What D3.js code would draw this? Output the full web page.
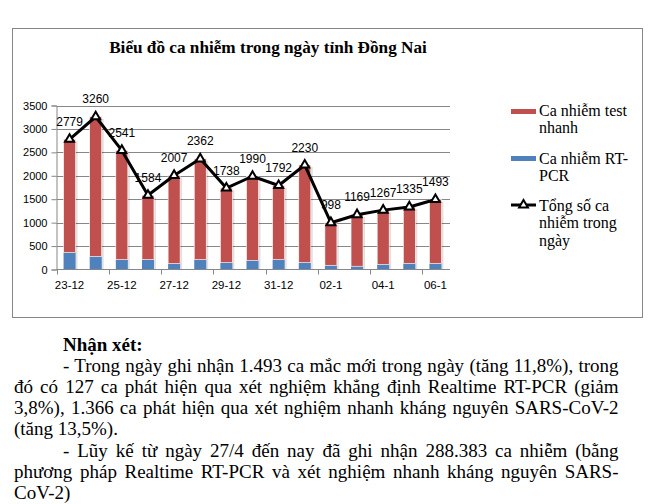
<!DOCTYPE html>
<html><head><meta charset="utf-8">
<script src="https://cdn.jsdelivr.net/npm/d3@7"></script>
<style>html,body{margin:0;padding:0;background:#fff;} svg{display:block}</style>
</head><body>
<svg id="c" width="663" height="504"></svg>
<script>
const categories = ["23-12","24-12","25-12","26-12","27-12","28-12","29-12","30-12","31-12","01-1","02-1","03-1","04-1","05-1","06-1"];
const totalCases = [2779,3260,2541,1584,2007,2362,1738,1990,1792,2230,998,1169,1267,1335,1493];
const rtpcrCases = [360,280,210,210,125,210,145,195,210,145,90,70,110,132,127];
const rapidCases = [2419,2980,2331,1374,1882,2152,1593,1795,1582,2085,908,1099,1157,1203,1366];
const yTicks = [0,500,1000,1500,2000,2500,3000,3500];
const xTickLabels = ["23-12","25-12","27-12","29-12","31-12","02-1","04-1","06-1"];
const chartTitle = "Biểu đồ ca nhiễm trong ngày tỉnh Đồng Nai";
const legendRapid = ["Ca nhiễm test", "nhanh"];
const legendPcr = ["Ca nhiễm RT-", "PCR"];
const legendTotal = ["Tổng số ca", "nhiễm trong", "ngày"];
const bodyLines = [
  {t:"Nhận xét:", x:63, bold:true, just:false},
  {t:"- Trong ngày ghi nhận 1.493 ca mắc mới trong ngày (tăng 11,8%), trong", x:63, just:true},
  {t:"đó có 127 ca phát hiện qua xét nghiệm khẳng định Realtime RT-PCR (giảm", x:14, just:true},
  {t:"3,8%), 1.366 ca phát hiện qua xét nghiệm nhanh kháng nguyên SARS-CoV-2", x:14, just:true},
  {t:"(tăng 13,5%).", x:14, just:false},
  {t:"- Lũy kế từ ngày 27/4 đến nay đã ghi nhận 288.383 ca nhiễm (bằng", x:63, just:true},
  {t:"phương pháp Realtime RT-PCR và xét nghiệm nhanh kháng nguyên SARS-", x:14, just:true},
  {t:"CoV-2)", x:14, just:false}
];

const RED = "#C0504D", BLUE = "#4F81BD", GRID = "#878787";
const svg = d3.select("#c");

// chart border
svg.append("rect").attr("x",12.5).attr("y",28.5).attr("width",630).attr("height",289)
  .attr("fill","#fff").attr("stroke","#868686").attr("stroke-width",1);

// title
svg.append("text").attr("x",268).attr("y",52.5).attr("text-anchor","middle")
  .attr("font-family","'Liberation Serif','Times New Roman',serif").attr("font-weight","bold")
  .attr("font-size",17.2).text(chartTitle);

const x = d3.scaleBand().domain(categories).range([56.5, 448.5]).padding(0);
const y = d3.scaleLinear().domain([0,3500]).range([269.5,105.5]);
const cx = c => x(c) + x.bandwidth()/2;
const bw = 12;

// gridlines
svg.append("g").selectAll("line").data(yTicks.filter(d=>d>0)).join("line")
  .attr("x1",56.5).attr("x2",450).attr("y1",d=>Math.round(y(d))+0.5).attr("y2",d=>Math.round(y(d))+0.5)
  .attr("stroke",GRID).attr("stroke-width",1);

// y axis
const yAxis = svg.append("g").attr("transform","translate(56.5,0)")
  .call(d3.axisLeft(y).tickValues(yTicks).tickSize(5).tickPadding(4).tickFormat(d3.format("d")));
yAxis.select(".domain").attr("stroke",GRID);
yAxis.selectAll(".tick line").attr("stroke",GRID);
yAxis.selectAll("text").attr("font-family","'Liberation Sans',Arial,sans-serif").attr("font-size",11).attr("fill","#000");

// bar shadows
svg.append("g").selectAll("rect").data(categories).join("rect")
  .attr("x",c=>cx(c)-bw/2+2).attr("y",(c,i)=>y(totalCases[i])+2)
  .attr("width",bw).attr("height",(c,i)=>y(0)-y(totalCases[i])-2)
  .attr("fill","#000").attr("opacity",0.12);

// stacked bars: RT-PCR (bottom), rapid (top)
svg.append("g").selectAll("rect").data(categories).join("rect")
  .attr("x",c=>cx(c)-bw/2).attr("y",(c,i)=>y(rtpcrCases[i]))
  .attr("width",bw).attr("height",(c,i)=>y(0)-y(rtpcrCases[i]))
  .attr("fill",BLUE);
svg.append("g").selectAll("rect").data(categories).join("rect")
  .attr("x",c=>cx(c)-bw/2).attr("y",(c,i)=>y(rtpcrCases[i]+rapidCases[i]))
  .attr("width",bw).attr("height",(c,i)=>y(rtpcrCases[i])-y(rtpcrCases[i]+rapidCases[i]))
  .attr("fill",RED).attr("stroke","#fff").attr("stroke-width",0.6);

// x axis
const xg = svg.append("g");
xg.append("line").attr("x1",56.5).attr("x2",450).attr("y1",269.5).attr("y2",269.5).attr("stroke",GRID);
const boundaryIdx = [0,2,4,6,8,10,12,14];
xg.selectAll("line.tk").data(boundaryIdx).join("line").attr("class","tk")
  .attr("x1",i=>Math.round(x(categories[i]))+0.5).attr("x2",i=>Math.round(x(categories[i]))+0.5)
  .attr("y1",269.5).attr("y2",274.5).attr("stroke",GRID);
xg.selectAll("text").data(xTickLabels).join("text")
  .attr("x",(d,i)=>cx(categories[i*2])).attr("y",289).attr("text-anchor","middle")
  .attr("font-family","'Liberation Sans',Arial,sans-serif").attr("font-size",11.5).text(d=>d);

// total line
const line = d3.line().x((d,i)=>cx(categories[i])).y(d=>y(d));
svg.append("path").datum(totalCases).attr("d",line).attr("fill","none")
  .attr("stroke","#000").attr("stroke-width",3).attr("stroke-linejoin","round");
const tri = d3.symbol(d3.symbolTriangle).size(34);
svg.append("g").selectAll("path").data(totalCases).join("path")
  .attr("d",tri).attr("transform",(d,i)=>`translate(${cx(categories[i])},${y(d)})`)
  .attr("fill","#fff").attr("stroke","#000").attr("stroke-width",2);

// data labels
svg.append("g").selectAll("text").data(totalCases).join("text")
  .attr("x",(d,i)=>cx(categories[i])).attr("y",d=>y(d)-13.5).attr("text-anchor","middle")
  .attr("font-family","'Liberation Sans',Arial,sans-serif").attr("font-size",12).text(d=>d);

// legend
const lg = svg.append("g").attr("font-family","'Liberation Serif','Times New Roman',serif").attr("font-size",16);
lg.append("rect").attr("x",511).attr("y",109).attr("width",25).attr("height",5).attr("fill",RED);
lg.append("rect").attr("x",511).attr("y",156).attr("width",25).attr("height",5).attr("fill",BLUE);
lg.append("line").attr("x1",511).attr("x2",536).attr("y1",205).attr("y2",205).attr("stroke","#000").attr("stroke-width",3);
lg.append("path").attr("d",tri).attr("transform","translate(523.5,205)").attr("fill","#fff").attr("stroke","#000").attr("stroke-width",2);
const legendBlocks = [[legendRapid,116],[legendPcr,163.5],[legendTotal,211]];
legendBlocks.forEach(([lines,y0])=>{
  lines.forEach((t,j)=>lg.append("text").attr("x",539).attr("y",y0+j*17.3).text(t));
});

// body text
const bg = svg.append("g").attr("font-family","'Liberation Serif','Times New Roman',serif").attr("font-size",19);
const RIGHT = 618.5;
bodyLines.forEach((L,i)=>{
  const t = bg.append("text").attr("x",L.x).attr("y",350.5 + i*21.2).text(L.t);
  if (L.bold) t.attr("font-weight","bold");
  if (L.just) {
    const nat = t.node().getComputedTextLength();
    const spaces = (L.t.match(/ /g)||[]).length;
    t.attr("word-spacing", ((RIGHT - L.x - nat)/spaces).toFixed(2));
  }
});
</script>
</body></html>
